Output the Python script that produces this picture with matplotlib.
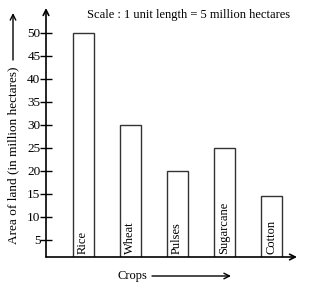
import matplotlib.pyplot as plt

crops = ["Rice", "Wheat", "Pulses", "Sugarcane", "Cotton"]
area = [50, 30, 20, 25, 14.5]
yticks = [5, 10, 15, 20, 25, 30, 35, 40, 45, 50]

plt.rcParams['font.family'] = ['Liberation Serif', 'DejaVu Serif']

W, H = 328, 291
fig = plt.figure(figsize=(W / 100, H / 100), dpi=100)
ax = fig.add_axes([46 / W, 34 / H, (297 - 46) / W, (257 - 8) / H])

x = list(range(len(crops)))
ax.bar(x, area, width=0.45, color='white', edgecolor='#333333', linewidth=1.0)
for xi, name in zip(x, crops):
    ax.text(xi, 2.0, name, rotation=90, ha='center', va='bottom', fontsize=9)

ax.set_xlim(-0.79, 4.55)
ax.set_ylim(1.3, 55.4)
ax.set_xticks([])
ax.set_yticks(yticks)
ax.tick_params(axis='y', direction='inout', length=8, width=1, labelsize=9.5, pad=0)
for s in ax.spines.values():
    s.set_visible(False)

# axes with arrow heads
ax.annotate('', xy=(0, 1), xytext=(0, 0), xycoords='axes fraction',
            arrowprops=dict(arrowstyle='->', lw=1.2, color='black', shrinkA=0, shrinkB=0))
ax.annotate('', xy=(1, 0), xytext=(0, 0), xycoords='axes fraction',
            arrowprops=dict(arrowstyle='->', lw=1.2, color='black', shrinkA=0, shrinkB=0))

fig.text(87 / W, 1 - 15 / H, "Scale : 1 unit length = 5 million hectares",
         ha='left', va='center', fontsize=9)

# x label with arrow
fig.text(118 / W, 1 - 276 / H, "Crops", ha='left', va='center', fontsize=9)
ax.annotate('', xy=(231 / W, 1 - 276 / H), xytext=(152 / W, 1 - 276 / H),
            xycoords='figure fraction',
            arrowprops=dict(arrowstyle='->', lw=1, color='black', shrinkA=0, shrinkB=0))

# y label with arrow
fig.text(13 / W, 1 - 155 / H, "Area of land (in million hectares)", rotation=90,
         ha='center', va='center', fontsize=9.5)
ax.annotate('', xy=(13 / W, 1 - 13 / H), xytext=(13 / W, 1 - 60 / H),
            xycoords='figure fraction',
            arrowprops=dict(arrowstyle='->', lw=1, color='black', shrinkA=0, shrinkB=0))

fig.savefig('out.png', dpi=100)
